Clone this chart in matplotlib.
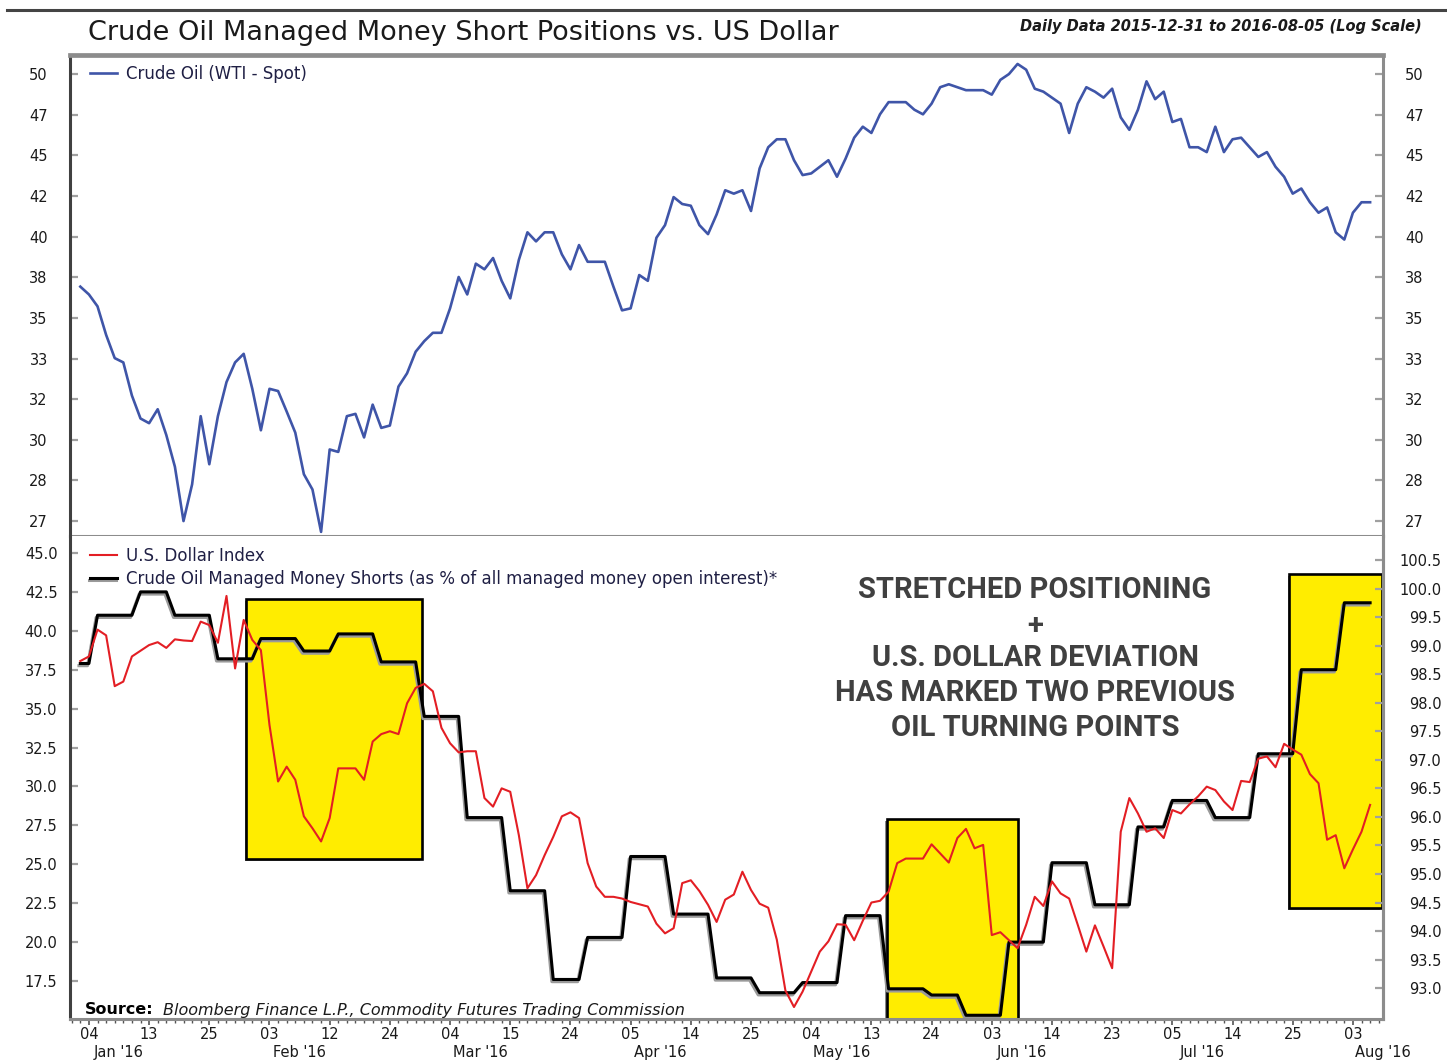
import numpy as np
import pandas as pd
import matplotlib
matplotlib.use('Agg')
import matplotlib.pyplot as plt
from matplotlib import patheffects as pe
from matplotlib.patches import Rectangle
from matplotlib.lines import Line2D
from matplotlib.ticker import FixedLocator, MultipleLocator, NullLocator, NullFormatter

# trading days 2015-12-31 .. 2016-08-05
holidays = ['2016-01-01', '2016-01-18', '2016-02-15', '2016-03-25', '2016-05-30', '2016-07-04']
dates = pd.bdate_range('2015-12-31', '2016-08-05', freq='C', holidays=holidays)

# WTI spot (USD/bbl)
oil = [37.3, 36.9, 36.3, 34.9, 33.8, 33.6, 32.1, 31.1, 30.9, 31.5,
       30.4, 29.1, 27.0, 28.4, 31.2, 29.2, 31.2, 32.7, 33.6, 34.0,
       32.4, 30.6, 32.4, 32.3, 31.4, 30.5, 28.8, 28.2, 26.6, 29.8,
       29.7, 31.2, 31.3, 30.3, 31.7, 30.7, 30.8, 32.5, 33.1, 34.1,
       34.6, 35.0, 35.0, 36.2, 37.8, 36.9, 38.5, 38.2, 38.8, 37.6,
       36.7, 38.7, 40.2, 39.7, 40.2, 40.2, 39.0, 38.2, 39.5, 38.6,
       38.6, 38.6, 37.3, 36.1, 36.2, 37.9, 37.6, 39.9, 40.6, 42.2,
       41.8, 41.7, 40.6, 40.1, 41.2, 42.6, 42.4, 42.6, 41.4, 43.9,
       45.2, 45.7, 45.7, 44.4, 43.5, 43.6, 44.0, 44.4, 43.4, 44.5,
       45.8, 46.5, 46.1, 47.3, 48.1, 48.1, 48.1, 47.6, 47.3, 48.0,
       49.1, 49.3, 49.1, 48.9, 48.9, 48.9, 48.6, 49.6, 50.0, 50.7,
       50.3, 49.0, 48.8, 48.4, 48.0, 46.1, 48.0, 49.1, 48.8, 48.4,
       49.0, 47.1, 46.3, 47.6, 49.5, 48.3, 48.8, 46.8, 47.0, 45.2,
       45.2, 44.9, 46.5, 44.9, 45.7, 45.8, 45.2, 44.6, 44.9, 44.0,
       43.4, 42.4, 42.7, 41.9, 41.3, 41.6, 40.2, 39.8, 41.3, 41.9,
       41.9]

# U.S. Dollar Index
usd = [98.73, 98.81, 99.28, 99.18, 98.29, 98.37, 98.81, 98.91, 99.01, 99.06,
       98.96, 99.11, 99.09, 99.08, 99.42, 99.36, 99.05, 99.87, 98.60, 99.45,
       99.10, 98.92, 97.61, 96.62, 96.88, 96.65, 96.01, 95.80, 95.57, 95.98,
       96.85, 96.85, 96.85, 96.65, 97.32, 97.45, 97.50, 97.45, 97.99, 98.26,
       98.33, 98.20, 97.56, 97.29, 97.13, 97.15, 97.15, 96.33, 96.18, 96.50,
       96.44, 95.68, 94.75, 94.98, 95.33, 95.65, 96.01, 96.08, 95.98, 95.19,
       94.78, 94.60, 94.60, 94.57, 94.51, 94.47, 94.43, 94.13, 93.96, 94.05,
       94.84, 94.89, 94.70, 94.46, 94.16, 94.55, 94.64, 95.04, 94.72, 94.48,
       94.41, 93.85, 92.96, 92.67, 92.94, 93.29, 93.64, 93.82, 94.12, 94.11,
       93.84, 94.18, 94.50, 94.53, 94.69, 95.19, 95.27, 95.27, 95.27, 95.52,
       95.36, 95.20, 95.63, 95.79, 95.45, 95.51, 93.93, 93.98, 93.84, 93.70,
       94.11, 94.60, 94.44, 94.87, 94.66, 94.57, 94.11, 93.64, 94.10, 93.73,
       93.35, 95.74, 96.33, 96.06, 95.74, 95.80, 95.63, 96.12, 96.06, 96.22,
       96.36, 96.53, 96.47, 96.27, 96.12, 96.63, 96.61, 97.02, 97.06, 96.87,
       97.28, 97.18, 97.09, 96.75, 96.59, 95.60, 95.68, 95.10, 95.43, 95.74,
       96.21]

# managed money shorts, % of managed money open interest (weekly, held daily)
shorts = [37.9, 37.9,
          41.0, 41.0, 41.0, 41.0, 41.0,
          42.5, 42.5, 42.5, 42.5,
          41.0, 41.0, 41.0, 41.0, 41.0,
          38.2, 38.2, 38.2, 38.2, 38.2,
          39.5, 39.5, 39.5, 39.5, 39.5,
          38.7, 38.7, 38.7, 38.7,
          39.8, 39.8, 39.8, 39.8, 39.8,
          38.0, 38.0, 38.0, 38.0, 38.0,
          34.5, 34.5, 34.5, 34.5, 34.5,
          28.0, 28.0, 28.0, 28.0, 28.0,
          23.3, 23.3, 23.3, 23.3, 23.3,
          17.6, 17.6, 17.6, 17.6,
          20.3, 20.3, 20.3, 20.3, 20.3,
          25.5, 25.5, 25.5, 25.5, 25.5,
          21.8, 21.8, 21.8, 21.8, 21.8,
          17.7, 17.7, 17.7, 17.7, 17.7,
          16.75, 16.75, 16.75, 16.75, 16.75,
          17.4, 17.4, 17.4, 17.4, 17.4,
          21.7, 21.7, 21.7, 21.7, 21.7,
          17.0, 17.0, 17.0, 17.0, 17.0,
          16.6, 16.6, 16.6, 16.6,
          15.3, 15.3, 15.3, 15.3, 15.3,
          20.0, 20.0, 20.0, 20.0, 20.0,
          25.1, 25.1, 25.1, 25.1, 25.1,
          22.4, 22.4, 22.4, 22.4, 22.4,
          27.4, 27.4, 27.4, 27.4,
          29.1, 29.1, 29.1, 29.1, 29.1,
          28.0, 28.0, 28.0, 28.0, 28.0,
          32.1, 32.1, 32.1, 32.1, 32.1,
          37.5, 37.5, 37.5, 37.5, 37.5,
          41.8, 41.8, 41.8, 41.8]

oil_tick_labels = ['27', '28', '30', '32', '33', '35', '38', '40', '42', '45', '47', '50']
short_ticks = [17.5, 20.0, 22.5, 25.0, 27.5, 30.0, 32.5, 35.0, 37.5, 40.0, 42.5, 45.0]
usd_ticks = [93.0, 93.5, 94.0, 94.5, 95.0, 95.5, 96.0, 96.5, 97.0, 97.5, 98.0, 98.5, 99.0, 99.5, 100.0, 100.5]

# highlighted periods: (first day idx, last day idx, low %, high %)
boxes = [(19.3, 39.7, 25.34, 42.03), (93.8, 109.0, 15.06, 27.89), (140.6, 151.4, 22.17, 43.63)]

x = np.arange(len(dates))
W, H = 1447, 1061
fig = plt.figure(figsize=(W / 100, H / 100), dpi=100)
plt.rcParams['font.family'] = 'DejaVu Sans'

GRAY = '#8c8c8c'
TXT = '#1a1a1a'
L, R = 70 / W, 1383 / W
ax1 = fig.add_axes([L, 1 - 536 / H, R - L, (536 - 55) / H])
ax2 = fig.add_axes([L, 1 - 1019 / H, R - L, (1019 - 536) / H])
ax3 = ax2.twinx()

xlim = (-1.2, 151.5)

# --- top panel: crude oil, log scale
ax1.plot(x, oil, color='#3F55A8', lw=1.9, label='Crude Oil (WTI - Spot)')
ax1.set_yscale('log')
ax1.set_ylim(26.45, 51.33)
ax1.set_xlim(*xlim)
ax1.yaxis.set_major_locator(FixedLocator(np.geomspace(27, 50, 12)))
ax1.yaxis.set_minor_locator(NullLocator())
ax1.yaxis.set_minor_formatter(NullFormatter())
ax1.set_yticklabels(oil_tick_labels)
ax1.set_xticks([])
ax1.tick_params(axis='y', direction='in', length=6, width=1.6, color='#a0a0a0',
                labelsize=10.5, labelcolor=TXT, left=True, right=True,
                labelleft=True, labelright=True, pad=16)
ax1.legend(loc='upper left', bbox_to_anchor=(0.0152, 0.98), frameon=False, fontsize=12,
           handlelength=1.65, handletextpad=0.5, borderpad=0, borderaxespad=0, labelcolor='#1f1f44')

# --- bottom panel: shorts (left) and dollar (right)
for x0, x1, y0, y1 in boxes:
    ax2.add_patch(Rectangle((x0, y0), x1 - x0, y1 - y0, facecolor='#FFED00', edgecolor='black',
                            lw=1.9, zorder=1, clip_on=False,
                            path_effects=[pe.SimplePatchShadow(offset=(-1.2, -1.5), shadow_rgbFace='#8a8a8a', alpha=1),
                                          pe.Normal()]))
shadow = [pe.SimpleLineShadow(offset=(-1, -1.6), shadow_color='#9a9a9a', alpha=1), pe.Normal()]
ax2.plot(x, shorts, color='black', lw=2.2, zorder=3, path_effects=shadow)
ax3.plot(x, usd, color='#E31E24', lw=1.5, zorder=4)

ax2.set_xlim(*xlim)
ax2.set_ylim(15.06, 46.09)
ax3.set_ylim(92.46, 100.92)
ax2.set_yticks(short_ticks)
ax2.set_yticklabels([f'{v:.1f}' for v in short_ticks])
ax3.set_yticks(usd_ticks)
ax3.set_yticklabels([f'{v:.1f}' for v in usd_ticks])
ax2.tick_params(axis='y', direction='in', length=6, width=1.6, color='#a0a0a0',
                labelsize=10.5, labelcolor=TXT, pad=9)
ax3.tick_params(axis='y', direction='in', length=6, width=1.6, color='#a0a0a0',
                labelsize=10.5, labelcolor=TXT, pad=42)
for lab in ax3.get_yticklabels():
    lab.set_ha('right')

# x axis: a tick every 7 trading days, minor tick each day
major_idx = list(range(1, len(dates), 7))
ax2.set_xticks(major_idx)
ax2.set_xticklabels([dates[i].strftime('%d') for i in major_idx])
ax2.xaxis.set_minor_locator(MultipleLocator(1))
ax2.tick_params(axis='x', which='major', direction='out', length=4, width=1.2, color='#555555',
                labelsize=10.5, labelcolor=TXT, pad=2)
ax2.tick_params(axis='x', which='minor', direction='out', length=3, width=1.0, color='#555555')
seen = set()
for i in major_idx:
    m = dates[i].month
    if m in seen:
        continue
    seen.add(m)
    ax2.annotate(dates[i].strftime("%b '%y"), xy=(i + 3.5, 0), xycoords=('data', 'axes fraction'),
                 xytext=(0, -24), textcoords='offset points', ha='center', va='center',
                 fontsize=10.5, color=TXT, annotation_clip=False)

# legends
handles = [Line2D([], [], color='#E31E24', lw=1.5),
           Line2D([], [], color='black', lw=2.2, path_effects=shadow)]
ax3.legend(handles, ['U.S. Dollar Index',
                     'Crude Oil Managed Money Shorts (as % of all managed money open interest)*'],
           loc='upper left', bbox_to_anchor=(0.0152, 0.978), frameon=False, fontsize=12,
           handlelength=1.65, handletextpad=0.5, labelspacing=0.3, borderpad=0, borderaxespad=0,
           labelcolor='#1f1f44')

# spines
for ax in (ax1, ax2, ax3):
    for s in ax.spines.values():
        s.set_color(GRAY)
        s.set_linewidth(2.2)
ax1.spines['top'].set_linewidth(3.4)
ax1.spines['left'].set_color('#404040')
ax2.spines['left'].set_color('#404040')
ax3.spines['left'].set_visible(False)
ax2.spines['top'].set_visible(False)
ax3.spines['top'].set_visible(False)
ax2.spines['bottom'].set_linewidth(1.8)

# titles and notes
fig.add_artist(Line2D([7 / W, 1.0], [1 - 10 / H, 1 - 10 / H], color='#444444', lw=2.2))
fig.text(88 / W, 1 - 33 / H, 'Crude Oil Managed Money Short Positions vs. US Dollar',
         fontsize=19.5, color=TXT, ha='left', va='center')
fig.text(1422 / W, 1 - 26 / H, 'Daily Data 2015-12-31 to 2016-08-05 (Log Scale)',
         fontsize=10.5, style='italic', fontweight='bold', color=TXT, ha='right', va='center')
fig.text(85 / W, 1 - 1010 / H, 'Source:', fontsize=11.5, fontweight='bold', color='black',
         ha='left', va='center')
fig.text(163 / W, 1 - 1010 / H, 'Bloomberg Finance L.P., Commodity Futures Trading Commission',
         fontsize=11.5, style='italic', color=TXT, ha='left', va='center')

note = ['STRETCHED POSITIONING', '+', 'U.S. DOLLAR DEVIATION', 'HAS MARKED TWO PREVIOUS', 'OIL TURNING POINTS']
note_y = [590, 626, 658, 693, 728]
for line, yy in zip(note, note_y):
    fig.text(1035 / W, 1 - yy / H, line, fontsize=21, fontweight='bold', color='#404040',
             family=['Roboto', 'DejaVu Sans'], ha='center', va='center')

fig.savefig('out.png', dpi=100)
